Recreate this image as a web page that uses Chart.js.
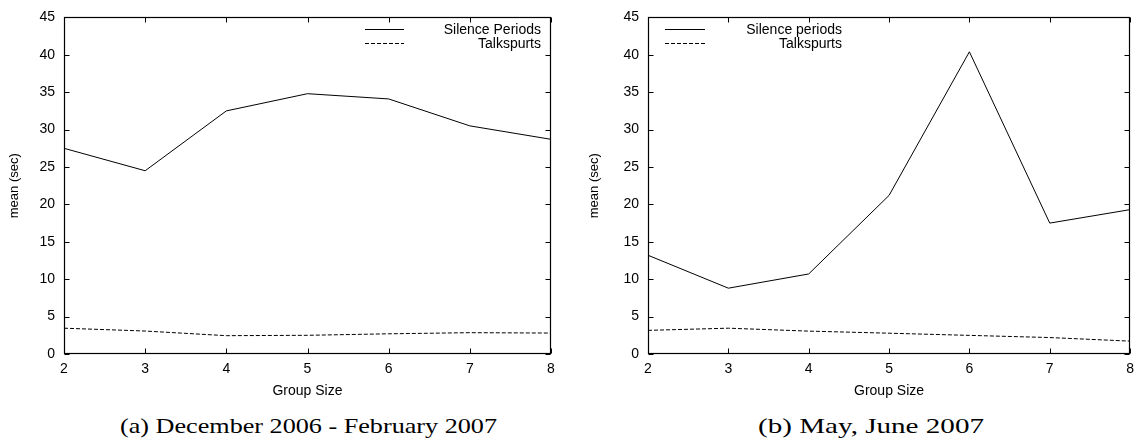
<!DOCTYPE html>
<html><head><meta charset="utf-8">
<script src="https://cdn.jsdelivr.net/npm/chart.js@4/dist/chart.umd.min.js"></script>
<style>
html,body{margin:0;padding:0;background:#fff;}
body{width:1141px;height:444px;position:relative;overflow:hidden;}
.box{position:absolute;top:0;height:400px;}
.cap{position:absolute;font-family:"Liberation Serif","DejaVu Serif",serif;font-size:21px;line-height:28px;white-space:nowrap;color:#000;transform-origin:0 50%;}
</style></head><body>
<div class="box" style="left:0;width:570px"><canvas id="c1" width="570" height="400"></canvas></div>
<div class="box" style="left:570px;width:571px"><canvas id="c2" width="571" height="400"></canvas></div>
<div class="cap" id="cap1" data-left="120" data-width="377" style="top:412px">(a) December 2006 - February 2007</div>
<div class="cap" id="cap2" data-left="758" data-width="226" style="top:412px">(b) May, June 2007</div>
<script>
const groupSizes = [2, 3, 4, 5, 6, 7, 8];
const yTickValues = [0, 5, 10, 15, 20, 25, 30, 35, 40, 45];
const silenceA = [27.5, 24.5, 32.5, 34.8, 34.1, 30.5, 28.7];
const talkA = [3.45, 3.07, 2.45, 2.5, 2.7, 2.85, 2.8];
const silenceB = [13.2, 8.8, 10.7, 21.2, 40.4, 17.5, 19.3];
const talkB = [3.16, 3.45, 3.06, 2.78, 2.49, 2.2, 1.72];
const labelsA = ["Silence Periods", "Talkspurts"];
const labelsB = ["Silence periods", "Talkspurts"];

Chart.defaults.font.family = '"Liberation Sans", Arial, Helvetica, sans-serif';
Chart.defaults.font.size = 14;
Chart.defaults.color = '#000';

// fit the captions to the reference width
document.querySelectorAll('.cap').forEach(el => {
  const w = el.getBoundingClientRect().width;
  el.style.left = el.dataset.left + 'px';
  el.style.transform = 'scaleX(' + (parseFloat(el.dataset.width) / w) + ')';
});

const framePlugin = {
  id: 'frame',
  afterDraw(chart, args, opts) {
    const ctx = chart.ctx;
    const a = chart.chartArea;
    const xs = chart.scales.x, ys = chart.scales.y;
    const L = Math.round(a.left) + 0.5, R = Math.round(a.right) - 0.5;
    const T = Math.round(a.top) + 0.5, B = Math.round(a.bottom) - 0.5;
    ctx.save();
    ctx.strokeStyle = '#000';
    ctx.lineWidth = 1.2;
    ctx.setLineDash([]);
    ctx.strokeRect(L, T, R - L, B - T);
    ctx.lineWidth = 1;
    const tl = 5;
    ctx.beginPath();
    xs.ticks.forEach(t => {
      const px = Math.round(xs.getPixelForValue(t.value)) + 0.5;
      ctx.moveTo(px, B); ctx.lineTo(px, B - tl);
      ctx.moveTo(px, T); ctx.lineTo(px, T + tl);
    });
    ys.ticks.forEach(t => {
      const py = Math.round(ys.getPixelForValue(t.value)) + 0.5;
      ctx.moveTo(L, py); ctx.lineTo(L + tl, py);
      ctx.moveTo(R, py); ctx.lineTo(R - tl, py);
    });
    ctx.stroke();
    // legend
    const lg = opts.legend;
    ctx.font = '14px "Liberation Sans", Arial, sans-serif';
    ctx.fillStyle = '#000';
    ctx.textAlign = 'right';
    ctx.textBaseline = 'middle';
    chart.data.datasets.forEach((ds, i) => {
      const y = Math.round(a.top + lg.rowY[i]) + 0.5;
      ctx.beginPath();
      ctx.setLineDash(ds.borderDash || []);
      ctx.moveTo(lg.anchor + lg.lineX1, y);
      ctx.lineTo(lg.anchor + lg.lineX2, y);
      ctx.stroke();
      ctx.setLineDash([]);
      ctx.fillText(ds.label, lg.anchor + lg.textRight, y + 1);
    });
    ctx.restore();
  }
};

function makeChart(id, silence, talk, labels, yW, padRight, yTitlePad, legend) {
  const toPts = arr => groupSizes.map((g, i) => ({x: g, y: arr[i]}));
  return new Chart(document.getElementById(id), {
    type: 'line',
    data: {
      datasets: [
        {label: labels[0], data: toPts(silence), borderColor: '#000', borderWidth: 1, pointRadius: 0, tension: 0, fill: false},
        {label: labels[1], data: toPts(talk), borderColor: '#000', borderWidth: 1, borderDash: [4, 2], pointRadius: 0, tension: 0, fill: false}
      ]
    },
    options: {
      responsive: false,
      animation: false,
      events: [],
      layout: {padding: {top: 12, left: 0, right: padRight, bottom: 0}},
      plugins: {legend: {display: false}, tooltip: {enabled: false}, frame: {legend: legend}},
      scales: {
        x: {
          type: 'linear', min: 2, max: 8,
          ticks: {stepSize: 1, padding: 7, font: {size: 14}, color: '#000'},
          grid: {display: false, drawTicks: false},
          border: {display: false},
          title: {display: true, text: 'Group Size', font: {size: 14}, color: '#000', padding: {top: 0, bottom: 0}},
          afterFit: s => { s.height = 46; }
        },
        y: {
          type: 'linear', min: 0, max: 45,
          afterBuildTicks: s => { s.ticks = yTickValues.map(v => ({value: v})); },
          ticks: {padding: 9, font: {size: 14}, color: '#000'},
          grid: {display: false, drawTicks: false},
          border: {display: false},
          title: {display: true, text: 'mean (sec)', font: {size: 13}, color: '#000', padding: {top: yTitlePad, bottom: 0}},
          afterFit: s => { s.width = yW; }
        }
      }
    },
    plugins: [framePlugin]
  });
}

const cA = makeChart('c1', silenceA, talkA, labelsA, 64, 19, 7,
  {anchor: 551, lineX1: -186, lineX2: -147, textRight: -10, rowY: [11.3, 25.7]});
const cB = makeChart('c2', silenceB, talkB, labelsB, 78, 8, 17,
  {anchor: 78, lineX1: 17, lineX2: 57, textRight: 194, rowY: [11.3, 25.7]});
</script>
</body></html>
